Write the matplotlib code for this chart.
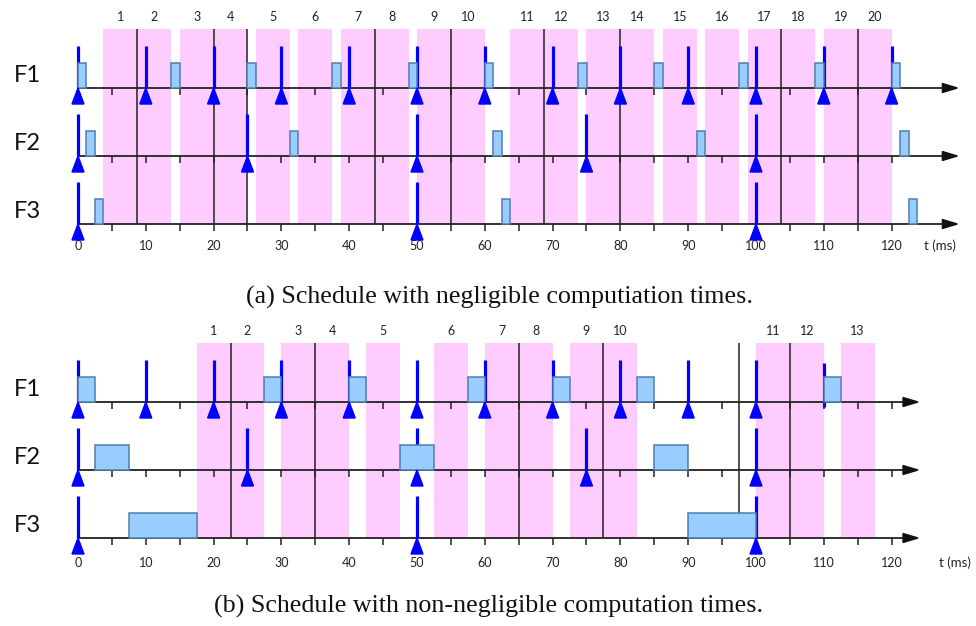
import matplotlib
matplotlib.use("Agg")
import matplotlib.pyplot as plt
from matplotlib.patches import Polygon, Rectangle

# release times of the three flows (ms)
f1_release_a = [0, 10, 20, 30, 40, 50, 60, 70, 80, 90, 100, 110, 120]
f2_release_a = [0, 25, 50, 75, 100]
f3_release_a = [0, 50, 100]

# execution windows (start, end) in ms, schedule (a)
f1_exec_a = [(0, 1.25), (13.75, 15), (25, 26.25), (37.5, 38.75), (48.75, 50), (60, 61.25),
             (73.75, 75), (85, 86.25), (97.5, 98.75), (108.75, 110), (120, 121.25)]
f2_exec_a = [(1.25, 2.5), (31.25, 32.5), (61.25, 62.5), (91.25, 92.5), (121.25, 122.5)]
f3_exec_a = [(2.5, 3.75), (62.5, 63.75), (122.5, 123.75)]

# free slots (start of each 5 ms slot) and slot separators, schedule (a)
slots_a = [3.75, 8.75, 15, 20, 26.25, 32.5, 38.75, 43.75, 50, 55,
           63.75, 68.75, 75, 80, 86.25, 92.5, 98.75, 103.75, 110, 115]
lines_a = [8.75, 20, 25, 43.75, 55, 68.75, 80, 103.75, 115]

# schedule (b)
f1_release_b = [0, 10, 20, 30, 40, 50, 60, 70, 80, 90, 100]
f1_late_b = [110]
f2_release_b = [0, 25, 50, 75, 100]
f3_release_b = [0, 50, 100]

f1_exec_b = [(0, 2.5), (27.5, 30), (40, 42.5), (57.5, 60), (70, 72.5), (82.5, 85), (110, 112.5)]
f2_exec_b = [(2.5, 7.5), (47.5, 52.5), (85, 90)]
f3_exec_b = [(7.5, 17.5), (90, 100)]

slots_b = [17.5, 22.5, 30, 35, 42.5, 52.5, 60, 65, 72.5, 77.5, 100, 105, 112.5]
lines_b = [22.5, 35, 65, 77.5, 97.5, 105]

slot_len = 5
tick_labels = [0, 10, 20, 30, 40, 50, 60, 70, 80, 90, 100, 110, 120]
flow_names = ["F1", "F2", "F3"]

PX = 6.78  # pixels per ms
PINK = "#ffccff"
BOX = "#99ccff"
BOX_EDGE = "#4f7fae"
BLUE = "#0000ff"
LBL = "Lato"

fig = plt.figure(figsize=(9.76, 6.26), dpi=100)


def draw_panel(ax, rows, releases, execs, slots, lines, late, axis_end, lbl_off):
    ax.set_xlim(-78 / PX, (976 - 78) / PX)
    ax.axis("off")
    top = rows[0] - 59
    bottom = rows[-1]
    tw = 6 / PX  # half width of the release triangles

    # free slots
    for i, s in enumerate(slots):
        ax.add_patch(Rectangle((s, top), slot_len, bottom - top, facecolor=PINK,
                               edgecolor="none", zorder=0))
        ax.text(s + slot_len / 2, top - 12, str(i + 1), ha="center", va="center",
                fontsize=9, family=LBL, color="#222222")
    ax.vlines(lines, top, bottom, color="#222222", lw=1.1, zorder=1)

    for k, y in enumerate(rows):
        ax.text(-7.4, y - 12, flow_names[k], ha="center", va="center",
                fontsize=17, family=LBL, color="#111111")
        # time axis with arrow head
        ax.plot([0, axis_end - 14 / PX], [y, y], color="#222222", lw=1.3, zorder=2)
        ax.add_patch(Polygon([(axis_end - 15 / PX, y - 4.5), (axis_end, y),
                              (axis_end - 15 / PX, y + 4.5)], closed=True,
                             color="#111111", zorder=2))
        ax.vlines(range(0, 121, 5), y, y + 7, color="#222222", lw=1.1, zorder=2)

        # execution boxes
        for a, b in execs[k]:
            ax.add_patch(Rectangle((a, y - 25), b - a, 25, facecolor=BOX,
                                   edgecolor=BOX_EDGE, lw=1.1, zorder=4))
        # release arrows
        for r in releases[k]:
            ax.plot([r, r], [y, y - 42], color=BLUE, lw=2.3, zorder=3,
                    solid_capstyle="butt")
            ax.add_patch(Polygon([(r, y), (r - tw, y + 16), (r + tw, y + 16)],
                                 closed=True, color=BLUE, zorder=5))
    for r in late:
        ax.plot([r, r], [rows[0] + 5, rows[0] - 39], color=BLUE, lw=2.3, zorder=3,
                solid_capstyle="butt")

    for t in tick_labels:
        ax.text(t, bottom + lbl_off, str(t), ha="center", va="center",
                fontsize=9, family=LBL, color="#222222")


# schedule (a): axes covers figure pixels 0..280 from the top
ax1 = fig.add_axes([0, 1 - 280 / 626, 1, 280 / 626])
ax1.set_ylim(280, 0)
draw_panel(ax1, [88, 156, 224], [f1_release_a, f2_release_a, f3_release_a],
           [f1_exec_a, f2_exec_a, f3_exec_a], slots_a, lines_a, [], 129.7, 22)
ax1.text(127.1, 246, "t (ms)", ha="center", va="center", fontsize=9.5, family=LBL,
         color="#222222")

# schedule (b): axes covers figure pixels 290..626
ax2 = fig.add_axes([0, 0, 1, 336 / 626])
ax2.set_ylim(336, 0)
draw_panel(ax2, [112, 180, 248], [f1_release_b, f2_release_b, f3_release_b],
           [f1_exec_b, f2_exec_b, f3_exec_b], slots_b, lines_b, f1_late_b, 123.9, 25)
ax2.text(129.3, 273, "t (ms)", ha="center", va="center", fontsize=9.5, family=LBL,
         color="#222222")

fig.text(499 / 976, 1 - 297 / 626, "(a) Schedule with negligible computiation times.",
         ha="center", va="center", fontsize=18.7, family="Liberation Serif", color="#111111")
fig.text(489 / 976, 1 - 606 / 626, "(b) Schedule with non-negligible computation times.",
         ha="center", va="center", fontsize=18.7, family="Liberation Serif", color="#111111")

fig.savefig("out.png", dpi=100)
